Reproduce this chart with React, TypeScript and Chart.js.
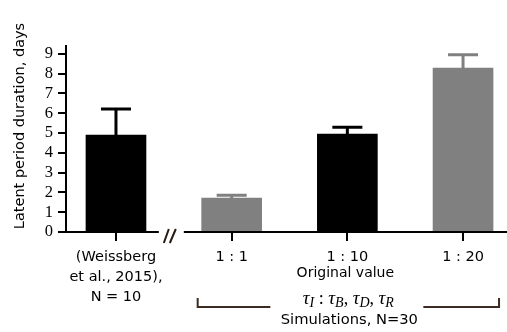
import React, { useEffect, useRef } from "react";
import { Chart, registerables } from "chart.js";

Chart.register(...registerables);

// ---- data ----
const categories: string[][] = [
  ["(Weissberg", "et al., 2015),", "N = 10"],
  ["1 : 1"],
  ["1 : 10"],
  ["1 : 20"],
];
const means = [4.9, 1.72, 4.95, 8.28];
const errors = [1.32, 0.14, 0.34, 0.68];
const barColors = ["#000000", "#808080", "#000000", "#808080"];
const yTicks = [0, 1, 2, 3, 4, 5, 6, 7, 8, 9];
const yTitle = "Latent period duration, days";
const middleSubLabel = "Original value";
const groupLabel = "Simulations, N=30";
const tauSubscripts = ["I", "B", "D", "R"];

const SANS = '"DejaVu Sans", sans-serif';
const SERIF = '"Liberation Serif", serif';

function drawParts(
  ctx: CanvasRenderingContext2D,
  parts: { t: string; font: string; dy: number }[],
  cx: number,
  baseline: number
) {
  let total = 0;
  parts.forEach((p) => {
    ctx.font = p.font;
    total += ctx.measureText(p.t).width;
  });
  let xx = cx - total / 2;
  ctx.textAlign = "left";
  ctx.textBaseline = "alphabetic";
  parts.forEach((p) => {
    ctx.font = p.font;
    ctx.fillText(p.t, xx, baseline + p.dy);
    xx += ctx.measureText(p.t).width;
  });
}

const overlay = {
  id: "overlay",
  afterDatasetsDraw(chart: any) {
    const { ctx, scales } = chart;
    const x = scales.x;
    const y = scales.y;
    ctx.save();
    ctx.lineWidth = 3;
    ctx.lineCap = "butt";
    means.forEach((m, i) => {
      const px = x.getPixelForValue(i);
      const yb = y.getPixelForValue(m);
      const yt = y.getPixelForValue(m + errors[i]);
      ctx.strokeStyle = barColors[i];
      ctx.beginPath();
      ctx.moveTo(px, yb);
      ctx.lineTo(px, yt);
      ctx.moveTo(px - 15, yt);
      ctx.lineTo(px + 15, yt);
      ctx.stroke();
    });
    ctx.restore();
  },
  afterDraw(chart: any) {
    const { ctx, chartArea, scales } = chart;
    const x = scales.x;
    const y = scales.y;
    const y0 = y.getPixelForValue(0);
    const bx = (x.getPixelForValue(0) + x.getPixelForValue(1)) / 2 - 3;
    ctx.save();
    // broken x axis
    ctx.strokeStyle = "#000";
    ctx.lineWidth = 2;
    ctx.beginPath();
    ctx.moveTo(chartArea.left - 1, y0);
    ctx.lineTo(bx - 12, y0);
    ctx.moveTo(bx + 13, y0);
    ctx.lineTo(chartArea.right, y0);
    ctx.stroke();
    ctx.strokeStyle = "#2a1a10";
    ctx.lineWidth = 2;
    ctx.beginPath();
    ctx.moveTo(bx - 7, y0 + 11);
    ctx.lineTo(bx - 2, y0 - 3);
    ctx.moveTo(bx - 1, y0 + 11);
    ctx.lineTo(bx + 5, y0 - 3);
    ctx.stroke();

    // y title
    ctx.fillStyle = "#000";
    ctx.font = `14.5px ${SANS}`;
    ctx.textAlign = "center";
    ctx.textBaseline = "middle";
    ctx.save();
    ctx.translate(20, 126);
    ctx.rotate(-Math.PI / 2);
    ctx.fillText(yTitle, 0, 0);
    ctx.restore();

    // sub label under middle tick
    const cx = x.getPixelForValue(2);
    ctx.font = `14px ${SANS}`;
    ctx.textAlign = "center";
    ctx.textBaseline = "middle";
    ctx.fillText(middleSubLabel, cx - 2, 273);

    // bracket
    const left = x.getPixelForValue(1) - 34;
    const right = x.getPixelForValue(3) + 36;
    const by = 307;
    ctx.strokeStyle = "#3b2b22";
    ctx.lineWidth = 2;
    ctx.beginPath();
    ctx.moveTo(left, by - 9);
    ctx.lineTo(left, by);
    ctx.lineTo(cx - 77, by);
    ctx.moveTo(cx + 76, by);
    ctx.lineTo(right, by);
    ctx.lineTo(right, by - 9);
    ctx.stroke();

    // tau formula
    const tauFont = `italic 19px ${SERIF}`;
    const subFont = `italic 14px ${SERIF}`;
    const rmFont = `18px ${SERIF}`;
    const parts: { t: string; font: string; dy: number }[] = [];
    tauSubscripts.forEach((s, i) => {
      parts.push({ t: "τ", font: tauFont, dy: 0 });
      parts.push({ t: s, font: subFont, dy: 3 });
      if (i === 0) parts.push({ t: " : ", font: rmFont, dy: 0 });
      else if (i < tauSubscripts.length - 1) parts.push({ t: ", ", font: rmFont, dy: 0 });
    });
    ctx.fillStyle = "#000";
    drawParts(ctx, parts, cx + 1, 304);

    ctx.font = `14.7px ${SANS}`;
    ctx.textAlign = "center";
    ctx.textBaseline = "middle";
    ctx.fillText(groupLabel, cx + 2, 320);
    ctx.restore();
  },
};

export default function App() {
  const ref = useRef<HTMLCanvasElement | null>(null);
  useEffect(() => {
    if (!ref.current) return;
    const chart = new Chart(ref.current, {
      type: "bar",
      data: {
        datasets: [
          {
            data: means.map((v, i) => ({ x: i, y: v })),
            backgroundColor: barColors,
            borderWidth: 0,
            barThickness: 60,
          },
        ],
      },
      options: {
        responsive: false,
        animation: false,
        layout: { padding: { top: 46, left: 0, right: 0, bottom: 0 } },
        plugins: {
          legend: { display: false },
          tooltip: { enabled: false },
        },
        scales: {
          x: {
            type: "linear",
            offset: false,
            min: -0.432,
            max: 3.38,
            afterBuildTicks: (s: any) => {
              s.ticks = categories.map((_, i) => ({ value: i }));
            },
            afterFit: (s: any) => {
              s.height = 100;
            },
            ticks: {
              autoSkip: false,
              maxRotation: 0,
              padding: 6,
              color: "#000",
              font: { family: SANS, size: 14.5, lineHeight: "20px" },
              callback: (v: any) => {
                const idx = Math.round(Number(v));
                return categories[idx] ?? "";
              },
            },
            grid: {
              display: true,
              offset: false,
              drawOnChartArea: false,
              drawTicks: true,
              tickLength: 9,
              color: "#000",
              lineWidth: 2,
            },
            border: { display: false },
          },
          y: {
            min: 0,
            max: 9.4,
            afterBuildTicks: (s: any) => {
              s.ticks = yTicks.map((v) => ({ value: v }));
            },
            afterFit: (s: any) => {
              s.width = 66;
            },
            ticks: {
              autoSkip: false,
              padding: 5,
              color: "#000",
              font: { family: SERIF, size: 16.5 },
              callback: (v: any) => String(v),
            },
            grid: {
              display: true,
              drawOnChartArea: false,
              drawTicks: true,
              tickLength: 8,
              color: "#000",
              lineWidth: 2,
            },
            border: { display: true, color: "#000", width: 2 },
          },
        },
      },
      plugins: [overlay],
    });
    return () => chart.destroy();
  }, []);
  return (
    <div style={{ position: "absolute", left: 0, top: 0, width: 507, height: 332, background: "#fff" }}>
      <canvas ref={ref} width={507} height={332} style={{ width: 507, height: 332 }} />
    </div>
  );
}
